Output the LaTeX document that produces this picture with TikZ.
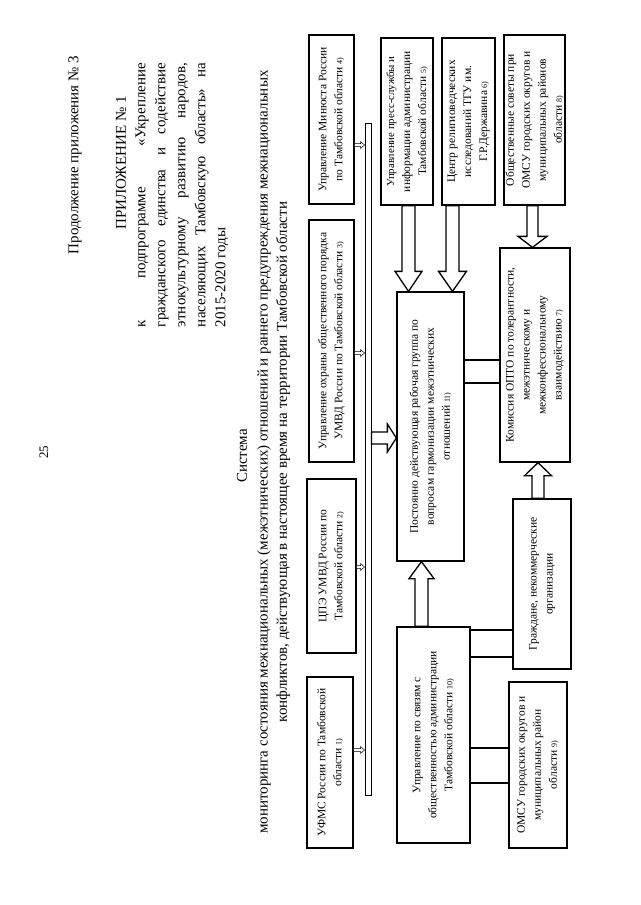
\documentclass[tikz,border=0pt]{standalone}
\usepackage{fontspec}
\setmainfont{Liberation Serif}
\usetikzlibrary{calc}
\tikzset{
  box/.style={draw, line width=1.3pt, inner sep=0pt},
  btxt/.style={rotate=90, align=center, font=\fontsize{11.5}{16}\selectfont, inner sep=0pt},
  hollow/.style={draw, line width=1.3pt, fill=white, line join=miter},
  small/.style={draw, line width=0.5pt, fill=white},
  band/.style={draw, line width=1.5pt},
  ptxt/.style={rotate=90, font=\fontsize{15}{20}\selectfont, inner sep=0pt}
}
\newcommand\nm[1]{{\fontsize{8}{8}\selectfont #1}}
\newcommand\mkbox[6]{\node[box, minimum width=#4pt, minimum height=#5pt] (#1) at (#2,#3) {};
  \node[btxt] (#1t) at (#1) {#6};}
\newcommand\blockv[6][hollow]{\draw[#1] let \p1=#2, \p2=#3 in
  (\x2-#4,\y1) -- (\x2-#4,\y2+#6) -- (\x2-#5,\y2+#6) -- (\x2,\y2) -- (\x2+#5,\y2+#6) -- (\x2+#4,\y2+#6) -- (\x2+#4,\y1) -- cycle;}
\newcommand\blockh[6][hollow]{\draw[#1] let \p1=#2, \p2=#3 in
  (\x1,\y2+#4) -- (\x2-#6,\y2+#4) -- (\x2-#6,\y2+#5) -- (\x2,\y2) -- (\x2-#6,\y2-#5) -- (\x2-#6,\y2-#4) -- (\x1,\y2-#4) -- cycle;}
\begin{document}
\begin{tikzpicture}[x=1pt,y=-1pt]
\useasboundingbox (0,0) rectangle (640,905);
\fill[white] (0,0) rectangle (640,905);

% header texts
\node[ptxt, font=\fontsize{13}{16}\selectfont] (pg) at (44,452) {25};
\node[ptxt] (cont) at (75,155) {Продолжение приложения № 3};
\node[ptxt] (app) at (121,163) {ПРИЛОЖЕНИЕ № 1};
\node[ptxt, align=left] (para) at (182,195) {%
\makebox[264pt][s]{к подпрограмме «Укрепление}\\
\makebox[264pt][s]{гражданского единства и содействие}\\
\makebox[264pt][s]{этнокультурному развитию народов,}\\
\makebox[264pt][s]{населяющих Тамбовскую область» на}\\
2015-2020 годы};
\node[ptxt] (sys) at (242,456) {Система};
\node[ptxt] (tl1) at (264,452) {мониторинга состояния межнациональных (межэтнических) отношений и раннего предупреждения межнациональных};
\node[ptxt] (tl2) at (283,462) {конфликтов, действующая в настоящее время на территории Тамбовской области};

% left column
\mkbox{b4}{331.5}{119.5}{45}{169}{Управление Минюста России\\по Тамбовской области \nm{4)}}
\mkbox{b3}{331.5}{341}{45}{242}{Управление охраны общественного порядка\\УМВД России по Тамбовской области \nm{3)}}
\mkbox{b2}{331.5}{566}{49}{174}{ЦПЭ УМВД России по\\Тамбовской области \nm{2)}}
\mkbox{b1}{330}{762.5}{46}{171}{УФМС России по Тамбовской\\области \nm{1)}}

% bar
\node[draw, line width=1pt, minimum width=6pt, minimum height=672pt, inner sep=0pt] (bar) at (368,459) {};

% top row
\mkbox{b5}{407}{121.5}{52}{167}{\fontsize{10.8}{16}\selectfont Управление пресс-службы и\\информации администрации\\Тамбовской области \nm{5)}}
\mkbox{b6}{468.5}{121.5}{53}{167}{Центр религиоведческих\\исследований ТГУ им.\\Г.Р.Державина \nm{6)}}
\mkbox{b8}{534.5}{120}{61}{170}{Общественные советы при\\ОМСУ городских округов и\\муниципальных районов\\области \nm{8)}}

% middle
\mkbox{b11}{430.5}{426.5}{67}{269}{Постоянно действующая рабочая группа по\\вопросам гармонизации межэтнических\\отношений \nm{11)}}
\mkbox{b7}{535}{355}{70}{214}{Комиссия ОПТО по толерантности,\\межэтническому и\\межконфессиональному\\взаимодействию \nm{7)}}
\mkbox{bG}{542}{584}{58}{170}{Граждане, некоммерческие\\организации}
\mkbox{b10}{433.5}{735}{73}{216}{Управление по связям с\\общественностью администрации\\Тамбовской области \nm{10)}}
\mkbox{b9}{538}{765}{58}{166}{ОМСУ городских округов и\\муниципальных район\\области \nm{9)}}

% small arrows to the bar
\blockh[small]{(b4.east |- 0,145)}{(bar.west |- 0,145)}{1.5pt}{3.5pt}{4pt}
\blockh[small]{(b3.east |- 0,353)}{(bar.west |- 0,353)}{1.5pt}{3.5pt}{4pt}
\blockh[small]{(b2.east |- 0,567)}{(bar.west |- 0,567)}{1.5pt}{3.5pt}{4pt}
\blockh[small]{(b1.east |- 0,750)}{(bar.west |- 0,750)}{1.5pt}{3.5pt}{4pt}

% block arrows
\blockh{(bar.east)}{($(b11.west)+(0,11.5)$)}{6pt}{14pt}{9pt}
\blockv{(b5.south)}{($(b11.north)+(-22,0)$)}{6.5pt}{13.5pt}{20pt}
\blockv{(b6.south)}{($(b11.north)+(22,0)$)}{6.5pt}{14pt}{20pt}
\blockv{(b8.south)}{($(b7.north)+(-2.5,0)$)}{5.5pt}{14.5pt}{11pt}
\blockv{(bG.north)}{($(b7.south)+(3,0)$)}{6pt}{13.5pt}{-13pt}
\blockv{(b10.north)}{($(b11.south)+(-9,0)$)}{6.5pt}{12.5pt}{-17pt}

% bands
\draw[band] (b11.east |- 0,360) rectangle (b7.west |- 0,383);
\draw[band] (b10.east |- 0,630) rectangle (bG.west |- 0,657);
\draw[band] (b10.east |- 0,748) rectangle (b9.west |- 0,783);
\end{tikzpicture}
\end{document}
